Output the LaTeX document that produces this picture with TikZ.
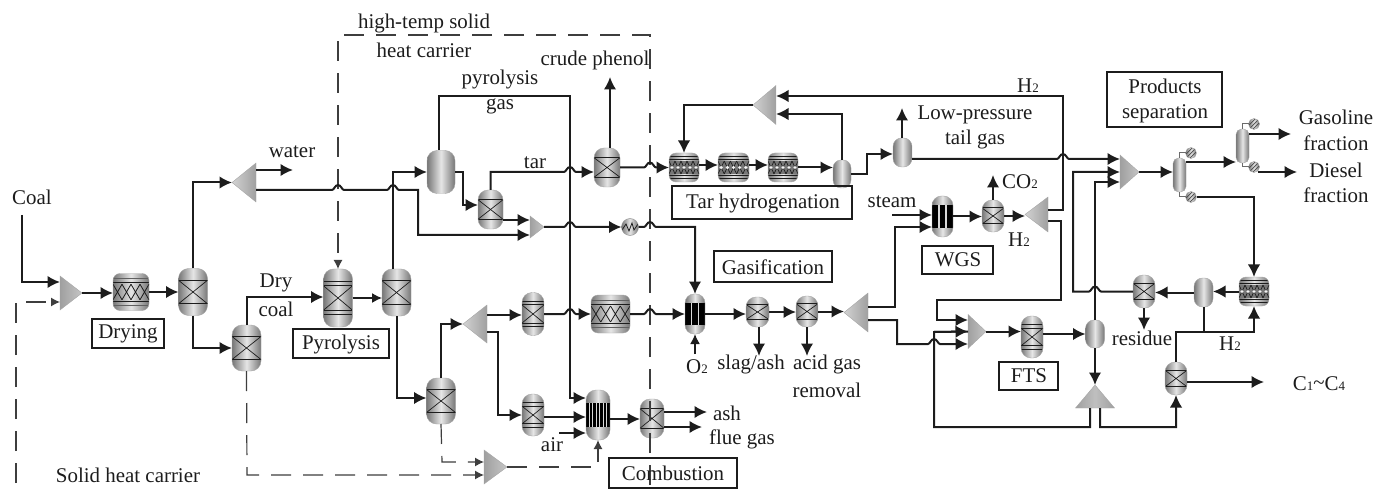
\documentclass[tikz,border=0pt]{standalone}
\usepackage{fontspec}
\setmainfont{Liberation Serif}
\usetikzlibrary{arrows.meta,calc}
\definecolor{ln}{HTML}{1C1C1C}
\definecolor{gEdge}{HTML}{767676}
\definecolor{gMid}{HTML}{E6E6E6}
\newcommand\hj[3]{ -- ({#1-6*#3},#2) .. controls ({#1-4*#3},#2) and ({#1-3*#3},{#2-5}) .. (#1,{#2-5}) .. controls ({#1+3*#3},{#2-5}) and ({#1+4*#3},#2) .. ({#1+6*#3},#2) }
\newcommand\sm[1]{{\fontsize{13}{13}\selectfont #1}}
\tikzset{
  x=1bp,y=-1bp,
  flow/.style={draw=ln,line width=2bp,-{Latex[length=12.5bp,width=12.5bp]}},
  flowthin/.style={draw=ln,line width=1.4bp,-{Latex[length=10bp,width=10bp]}},
  line/.style={draw=ln,line width=2bp},
  thinline/.style={draw=ln!65,line width=1bp},
  dashflow/.style={draw=ln!85,line width=1.2bp,dash pattern=on 20bp off 12bp,-{Latex[length=9bp,width=9bp]}},
  lab/.style={font=\fontsize{21}{25}\selectfont,inner sep=0,text=ln,align=center},
  tag/.style={draw=ln,line width=1.6bp,inner sep=0,rounded corners=0},
  vessel/.style 2 args={minimum width=#1bp,minimum height=#2bp,inner sep=0,outer sep=0,draw=gray!70,line width=.4bp,rounded corners={min(#1/2-1,10)*1bp},left color=gEdge,right color=gEdge,middle color=gMid},
  rx/.style 2 args={vessel={#1}{#2},path picture={\begin{scope}[sharp corners,shift={(path picture bounding box.center)}]
     \draw[ln,line width=1bp] ({-#1/2},{.25*#2}) -- ({#1/2},{.25*#2}) ({-#1/2},{-.25*#2}) -- ({#1/2},{-.25*#2});
     \draw[ln,line width=.7bp] ({-#1/2},{.25*#2}) -- ({#1/2},{-.25*#2}) ({-#1/2},{-.25*#2}) -- ({#1/2},{.25*#2});
     \end{scope}}},
  rxd/.style 2 args={vessel={#1}{#2},path picture={\begin{scope}[sharp corners,shift={(path picture bounding box.center)}]
     \draw[ln,line width=1bp] ({-#1/2},{.21*#2}) -- ({#1/2},{.21*#2}) ({-#1/2},{-.21*#2}) -- ({#1/2},{-.21*#2}) ({-#1/2},{.29*#2}) -- ({#1/2},{.29*#2}) ({-#1/2},{-.29*#2}) -- ({#1/2},{-.29*#2});
     \draw[ln,line width=.7bp] ({-#1/2},{.21*#2}) -- ({#1/2},{-.21*#2}) ({-#1/2},{-.21*#2}) -- ({#1/2},{.21*#2});
     \end{scope}}},
  pack/.style 2 args={vessel={#1}{#2},rounded corners=7bp,path picture={\begin{scope}[sharp corners,shift={(path picture bounding box.center)}]
     \draw[ln,line width=1bp] ({-#1/2},{.25*#2}) -- ({#1/2},{.25*#2}) ({-#1/2},{-.25*#2}) -- ({#1/2},{-.25*#2});
     \draw[ln!70,line width=.6bp] ({-#1/2},{.36*#2}) -- ({#1/2},{.36*#2}) ({-#1/2},{-.36*#2}) -- ({#1/2},{-.36*#2});
     \foreach \i in {0,1,2,3}{
       \draw[ln,line width=.8bp] ({-#1/2+\i*#1/4},{.21*#2}) -- ({-#1/2+(\i+1)*#1/4},{-.21*#2}) ({-#1/2+\i*#1/4},{-.21*#2}) -- ({-#1/2+(\i+1)*#1/4},{.21*#2});}
     \end{scope}}},
  packd/.style 2 args={vessel={#1}{#2},rounded corners=7bp,path picture={\begin{scope}[sharp corners,shift={(path picture bounding box.center)}]
     \fill[ln!60] ({-#1/2},{-.24*#2}) rectangle ({#1/2},{.24*#2});
     \draw[ln,line width=1bp] ({-#1/2},{.26*#2}) -- ({#1/2},{.26*#2}) ({-#1/2},{-.26*#2}) -- ({#1/2},{-.26*#2}) ({-#1/2},{.38*#2}) -- ({#1/2},{.38*#2}) ({-#1/2},{-.38*#2}) -- ({#1/2},{-.38*#2});
     \foreach \i in {0,1,2,3,4}{\draw[ln,line width=.7bp] ({-#1/2+\i*#1/5},{.22*#2}) -- ({-#1/2+(\i+1)*#1/5},{-.22*#2}) ({-#1/2+\i*#1/5},{-.22*#2}) -- ({-#1/2+(\i+1)*#1/5},{.22*#2});
       \fill[white!90!gray] ({-#1/2+(\i+.5)*#1/5},0) circle (1.7bp);}
     \end{scope}}},
  tube/.style 2 args={vessel={#1}{#2},path picture={\begin{scope}[sharp corners,shift={(path picture bounding box.center)}]
     \fill[black] ({-#1/2},{-.27*#2}) rectangle ({#1/2},{.27*#2});
     \draw[white!70!gray,line width=1.2bp] ({-#1/6},{-.27*#2}) -- ({-#1/6},{.27*#2}) ({#1/6},{-.27*#2}) -- ({#1/6},{.27*#2});
     \end{scope}}},
  tubem/.style 2 args={vessel={#1}{#2},path picture={\begin{scope}[sharp corners,shift={(path picture bounding box.center)}]
     \fill[black] ({-#1/2},{-.24*#2}) rectangle ({#1/2},{.24*#2});
     \foreach \i in {1,2,3,4,5,6}{\draw[white!70!gray,line width=.8bp] ({-#1/2+\i*#1/7},{-.24*#2}) -- ({-#1/2+\i*#1/7},{.24*#2});}
     \end{scope}}},
  hexch/.style={circle,minimum size=17bp,inner sep=0,outer sep=0,draw=gray!80,line width=.5bp,left color=gEdge,right color=gEdge,middle color=gMid,path picture={\begin{scope}[sharp corners,shift={(path picture bounding box.center)}]
     \draw[ln,line width=.8bp] (-8,3) -- (-4,-3) -- (-1,4) -- (2,-4) -- (4,3) -- (8,-3);
     \end{scope}}},
  cond/.style={circle,minimum size=11bp,inner sep=0,outer sep=0,draw=gray!80,line width=.4bp,left color=gEdge,right color=gEdge,middle color=gMid,path picture={\begin{scope}[sharp corners,shift={(path picture bounding box.center)}]
     \draw[ln!80,line width=.7bp] (-5,5) -- (5,-5) (-5,1) -- (1,-5) (-1,5) -- (5,-1);
     \end{scope}}},
  tribox/.style 2 args={minimum width=#1bp,minimum height=#2bp,inner sep=0,outer sep=0},
  trishade/.style={draw=gray!70,line width=.4bp,left color=gray!75,right color=gray!45},
  trishadeL/.style={draw=gray!70,line width=.4bp,left color=gray!35,right color=gray!75},
}
\newcommand\triR[5]{\node[tribox={#4}{#5}] (#1) at (#2,#3) {}; \shade[trishade] (#1.north west) -- (#1.east) -- (#1.south west) -- cycle;}
\newcommand\triL[5]{\node[tribox={#4}{#5}] (#1) at (#2,#3) {}; \shade[trishadeL] (#1.north east) -- (#1.west) -- (#1.south east) -- cycle;}
\newcommand\triU[5]{\node[tribox={#4}{#5}] (#1) at (#2,#3) {}; \shade[trishade,left color=gray!75,right color=gray!75,middle color=gray!50] (#1.south west) -- (#1.north) -- (#1.south east) -- cycle;}
\begin{document}
\begin{tikzpicture}
\useasboundingbox (0,0) rectangle (1376,489);
% --- equipment
\triR{M1}{71}{293}{22}{34}
\node[pack={36}{37}] (P1) at (131,292) {};
\node[rx={29}{47}] (R1) at (193,292) {};
\node[rx={29}{46}] (R2) at (246.5,348) {};
\node[rxd={29}{58}] (PY) at (338,298) {};
\node[rx={29}{47}] (R3) at (396.5,292.5) {};
\node[rx={29}{46}] (R4) at (441,401) {};
\node[vessel={28}{43}] (V1) at (441,172) {};
\node[rx={25}{39}] (R5) at (490.5,209.5) {};
\node[rx={26}{39}] (R6) at (607,167.5) {};
\triL{S1}{244}{182.5}{24}{39}
\triR{M2}{537}{227}{14}{22}
\node[hexch] (HX) at (630,227) {};
\triL{S5}{475}{324}{24}{38}
\node[rxd={22}{43}] (R11) at (533,314) {};
\node[rxd={22}{42}] (R12) at (533,415) {};
\node[pack={39}{38}] (P6) at (610.5,314) {};
\node[tube={20}{40}] (G) at (695,314) {};
\node[tubem={24}{50}] (C) at (598,415) {};
\node[rx={24}{39}] (R15) at (652,418.5) {};
\triR{M6}{495.5}{467}{23}{34}
\node[rx={23}{30}] (R13) at (757.5,312) {};
\node[rx={22}{31}] (R14) at (807,311.5) {};
\triL{S4}{856}{312.5}{24}{39}
\node[packd={30}{29}] (T1) at (684,167.5) {};
\node[packd={31}{29}] (T2) at (733.5,167.5) {};
\node[packd={30}{29}] (T3) at (783,167.5) {};
\node[vessel={18}{28}] (V2) at (842,174) {};
\triL{S2}{764.5}{105}{23}{39}
\node[vessel={19}{29}] (V3) at (902.5,152.5) {};
\node[tube={21}{41}] (W) at (942.5,216.5) {};
\node[rx={22}{32}] (R9) at (993,216) {};
\triL{S3}{1036.5}{214.5}{23}{35}
\triR{M5}{977}{331.5}{18}{34}
\node[rxd={22}{42}] (R10) at (1032,337) {};
\node[vessel={19}{28}] (V4) at (1095,334) {};
\triU{T4}{1095}{396.5}{39}{23}
\triR{M3}{1129.5}{172}{19}{34}
\node[vessel={13}{34}] (Co1) at (1179.5,175) {};
\node[vessel={13}{34}] (Co2) at (1242.5,146) {};
\node[cond] (I1) at (1191,153) {};
\node[cond] (I2) at (1191,197) {};
\node[cond] (I3) at (1254,124) {};
\node[cond] (I4) at (1254,167) {};
\node[packd={30}{29}] (P5) at (1254,291.5) {};
\node[vessel={19}{29}] (V5) at (1203.5,292.5) {};
\node[rx={22}{33}] (R7) at (1144,291.5) {};
\node[rx={22}{33}] (R8) at (1176,378.5) {};
% --- free ends
\coordinate (coalS) at (22,215);
\coordinate (shB) at (16,483);
\coordinate (shT) at (16,303);
\coordinate (shS) at (26,302);
\coordinate (waterE) at (293,170);
\coordinate (airS) at (559,433);
\coordinate (ashE) at (707,412);
\coordinate (flueE) at (702,427);
\coordinate (o2S) at (695,354);
\coordinate (pheE) at (610,77);
\coordinate (lpE) at (902,108);
\coordinate (steamS) at (892,215);
\coordinate (co2E) at (993,175);
\coordinate (slagE) at (759,356);
\coordinate (acidE) at (807,356);
\coordinate (gasE) at (1291,134);
\coordinate (dieE) at (1297,172);
\coordinate (resE) at (1144,330);
\coordinate (c1E) at (1264,382);
% --- dashed carrier lines
\draw[dashflow] (650,485) -- (650,35) -- (338,35) -- (PY.north);
\draw[dashflow,arrows=-] (shB) -- (shT);
\draw[dashflow] (shS) -- (M1.west |- shS);
\draw[dashflow] (R4.south) -- (442,462) -- (M6.west |- 0,462);
\draw[dashflow] (R2.south) -- (247,475) -- (M6.west |- 0,475);
\draw[dashflow] (M6.east) -| (C.south);
% --- process streams
\draw[flow] (coalS) |- (M1.west |- 0,282);
\draw[flow] (M1.east) -- (M1.east -| P1.west);
\draw[flow] (P1.east) -- (R1.west);
\draw[flow] (R1.north) |- (S1.west);
\draw[flow] (S1.east |- waterE) -- (waterE);
\draw[flow] (S1.east |- 0,190) \hj{338}{190}{1} \hj{393}{190}{1} -- (418,190) -- (418,235) -- (M2.west |- 0,235);
\draw[flow] (R1.south) |- (R2.west);
\draw[flow] (R2.north) |- (PY.west |- 0,297);
\draw[flowthin] (PY.east) -- (PY.east -| R3.west);
\draw[flow] (393,269) -- (393,172) -- (V1.west);
\draw[flow] (R3.south) |- (R4.west |- 0,398);
\draw[flow] (R4.north) |- (S5.west);
\draw[flow] (S5.east |- 0,315) -- (R11.west |- 0,315);
\draw[flow] (S5.east |- 0,332) -- (498,332) -- (498,415) -- (R12.west);
\draw[flow] (R12.east |- 0,417) -- (C.west |- 0,417);
\draw[flow] (439,150) -- (439,96) -- (570,96) -- (570,398) -- (C.west |- 0,398);
\draw[flow] (airS) -- (C.west |- airS);
\draw[flow] (C.east |- 0,419) -- (R15.west |- 0,419);
\draw[flow] (R15.east |- ashE) -- (ashE);
\draw[flow] (R15.east |- flueE) -- (flueE);
\draw[flow] (R11.east) \hj{570}{314}{1} -- (P6.west);
\draw[flow] (P6.east) \hj{650}{314}{1} -- (G.west);
\draw[flowthin,line width=1.6bp] (o2S) -- (G.south);
\draw[flow] (R5.east |- 0,220) -- (M2.west |- 0,220);
\draw[flow] (M2.east) \hj{570}{227}{1} -- (HX.west);
\draw[flow] (HX.east) \hj{650}{227}{1} -- (695,227) -- (G.north);
\draw[flow] (V1.east) -- (463,172) -- (463,205) -- (R5.west |- 0,205);
\draw[flow] (R5.north) -- (490.5,172) \hj{570}{172}{1} -- (R6.west |- 0,172);
\draw[flow] (pheE |- R6.north) -- (pheE);
\draw[flow] (R6.east |- T1.west) \hj{650}{167.5}{1} -- (T1.west);
\draw[flow] (T1.east |- 0,165) -- (T2.west |- 0,165);
\draw[flow] (T2.east |- 0,165) -- (T3.west |- 0,165);
\draw[flow] (T3.east) -- (T3.east -| V2.west);
\draw[flow] (V2.north) |- (S2.east |- 0,114);
\draw[flow] (S2.west) -| (T1.north);
\draw[flow] (S3.east |- 0,210) -- (1063,210) -- (1063,96) -- (S2.east |- 0,96);
\draw[flow] (V2.east) -- (867,174) -- (867,154) -- (V3.west |- 0,154);
\draw[flow] (lpE |- V3.north) -- (lpE);
\draw[flow] (V3.east |- 0,159) \hj{1063}{159}{1} -- (M3.west |- 0,159);
\draw[flow] (R7.west) \hj{1095}{291.5}{-1} -- (1073,291.5) -- (1073,172) -- (M3.west);
\draw[flow] (V4.north) -- (1095,182) -- (M3.west |- 0,182);
\draw[flow] (M3.east) -- (M3.east -| Co1.west);
\draw[flow] (Co1.east |- 0,162) -- (Co2.west |- 0,162);
\draw[flow] (Co2.east |- gasE) -- (gasE);
\draw[flow] (I4.south east |- dieE) -- (dieE);
\draw[thinline] (Co1.north) |- (I1.west);
\draw[thinline] (Co1.south) |- (I2.west);
\draw[thinline] (Co2.north) |- (I3.west);
\draw[thinline] (Co2.south) |- (I4.west);
\draw[flow] (I2.east) -| (P5.north);
\draw[flow] (P5.west) -- (P5.west -| V5.east);
\draw[flow] (V5.west) -- (V5.west -| R7.east);
\draw[flow] (R7.south) -- (resE);
\draw[line] (V5.south) -- (V5.south |- 0,332);
\draw[flow] (R8.north) -- (R8.north |- 0,332) -- (P5.south |- 0,332) -- (P5.south);
\draw[flow] (R8.east |- c1E) -- (c1E);
\draw[flow] (R10.east |- 0,334) -- (V4.west |- 0,334);
\draw[flow] (V4.south) -- (T4.north);
\draw[flow,arrows=-] ([xshift=-5bp]T4.south) -- (1090,427) -- (934,427) -- (934,332) -- (M5.west) ;
\draw[flow] (934,332) -- (M5.west);
\draw[flow] ([xshift=5bp]T4.south) -- (1100,427) -- (R8.south |- 0,427) -- (R8.south);
\draw[flow] (M5.east) -- (M5.east -| R10.west);
\draw[flow] (S3.east |- 0,221) -- (1061,221) -- (1061,300) -- (937,300) -- (937,320) -- (M5.west |- 0,320);
\draw[flow] (S4.east |- 0,307) -- (895,307) -- (895,227) -- (W.west |- 0,227);
\draw[flow] (S4.east |- 0,320) -- (897,320) -- (897,344) \hj{934}{344}{1} -- (M5.west |- 0,344);
\draw[flow] (steamS) -- (W.west |- steamS);
\draw[flow] (W.east) -- (W.east -| R9.west);
\draw[flow] (R9.north) -- (co2E);
\draw[flow] (R9.east) -- (R9.east -| S3.west);
\draw[flow] (G.east) -- (G.east -| R13.west);
\draw[flow] (R13.east) -- (R13.east -| R14.west);
\draw[flow] (R14.east) -- (R14.east -| S4.west);
\draw[flow] (slagE |- R13.south) -- (slagE);
\draw[flow] (acidE |- R14.south) -- (acidE);
% --- section boxes
\node[tag,minimum width=72bp,minimum height=29bp] (bDry) at (128,333.5) {};
\node[tag,minimum width=96bp,minimum height=29bp] (bPyr) at (341,343.5) {};
\node[tag,minimum width=180bp,minimum height=33bp] (bTar) at (762,202.5) {};
\node[tag,minimum width=118bp,minimum height=31bp] (bGas) at (773,266.5) {};
\node[tag,minimum width=128bp,minimum height=30bp] (bCom) at (673,473) {};
\node[tag,minimum width=71bp,minimum height=28bp] (bWgs) at (957.5,260) {};
\node[tag,minimum width=59bp,minimum height=28bp] (bFts) at (1028.5,376) {};
\node[tag,minimum width=115bp,minimum height=55bp] (bPro) at (1164.5,99.5) {};
% --- labels
\node[lab] (tDry) at (128,334) {Drying};
\node[lab] (tPyr) at (341,344) {Pyrolysis};
\node[lab] (tTar) at (763,203) {Tar hydrogenation};
\node[lab] (tGas) at (773,267) {Gasification};
\node[lab] (tCom) at (673,473) {Combustion};
\node[lab] (tWgs) at (958,260) {WGS};
\node[lab] (tFts) at (1029,376) {FTS};
\node[lab] (tPro) at (1165,101) {Products\\[1pt]separation};
\node[lab] (tCoal) at (32,197) {Coal};
\node[lab] (tSolid) at (128,475) {Solid heat carrier};
\node[lab] (tHigh) at (424,24) {high-temp solid};
\node[lab] (tHeat) at (424,50) {heat carrier};
\node[lab] (tWater) at (292,152) {water};
\node[lab] (tDryc) at (276,283) {Dry};
\node[lab] (tCoal2) at (276,309) {coal};
\node[lab] (tPg) at (500,80) {pyrolysis};
\node[lab] (tPg2) at (500,106) {gas};
\node[lab] (tTarl) at (535,163) {tar};
\node[lab] (tPhe) at (595,60) {crude phenol};
\node[lab] (tLow) at (975,115) {Low-pressure};
\node[lab] (tTail) at (975,140) {tail gas};
\node[lab] (tH1) at (1028,86) {H\sm{2}};
\node[lab] (tSteam) at (892,202) {steam};
\node[lab] (tCo2) at (1020,182) {CO\sm{2}};
\node[lab] (tH2) at (1019,240) {H\sm{2}};
\node[lab] (tGo) at (1336,117) {Gasoline};
\node[lab] (tGf) at (1336,143) {fraction};
\node[lab] (tDi) at (1336,170) {Diesel};
\node[lab] (tDf) at (1336,195) {fraction};
\node[lab] (tRes) at (1142,338) {residue};
\node[lab] (tH3) at (1230,344) {H\sm{2}};
\node[lab] (tC1) at (1319,384) {C\sm{1}\raisebox{1pt}{\textasciitilde}C\sm{4}};
\node[lab] (tO2) at (697,367) {O\sm{2}};
\node[lab] (tSlag) at (751,364) {slag/ash};
\node[lab] (tAcid) at (827,364) {acid gas};
\node[lab] (tRem) at (827,390) {removal};
\node[lab] (tAir) at (552,445) {air};
\node[lab] (tAsh) at (727,413) {ash};
\node[lab] (tFlue) at (742,439) {flue gas};
\end{tikzpicture}
\end{document}
